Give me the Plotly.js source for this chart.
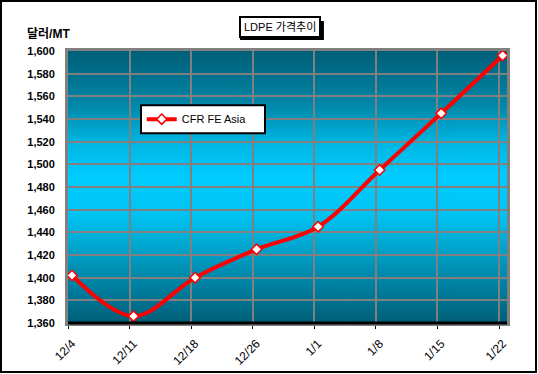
<!DOCTYPE html>
<html>
<head>
<meta charset="utf-8">
<script src="https://cdn.plot.ly/plotly-3.0.1.min.js"></script>
<style>
  html, body { margin: 0; padding: 0; background: #fff; }
  #wrap { position: relative; width: 538px; height: 374px; }
  #chart { width: 538px; height: 374px; }
  #frame { position: absolute; left: 0; top: 0; width: 537px; height: 373px; box-sizing: border-box; border: 2px solid #000; pointer-events: none; }
</style>
</head>
<body>
<div id="wrap"><div id="chart"></div><div id="frame"></div></div>
<script>
// ---- data ----
var categories = ["12/4", "12/11", "12/18", "12/26", "1/1", "1/8", "1/15", "1/22"];
var seriesName = "CFR FE Asia";
var seriesValues = [1402, 1366, 1400, 1425, 1445, 1495, 1545, 1596];
var yTickValues = [1360, 1380, 1400, 1420, 1440, 1460, 1480, 1500, 1520, 1540, 1560, 1580, 1600];
var chartTitle = "LDPE 가격추이";
var yTitle = "달러/MT";

// ---- background gradient for plot area ----
function makeGradient() {
  var c = document.createElement("canvas");
  c.width = 4; c.height = 272;
  var g = c.getContext("2d");
  var grd = g.createLinearGradient(0, 0, 0, 272);
  grd.addColorStop(0, "#005e78");
  grd.addColorStop(0.2, "#0088a8");
  grd.addColorStop(0.33, "#00b4e0");
  grd.addColorStop(0.46, "#00ccff");
  grd.addColorStop(0.6, "#00c4f4");
  grd.addColorStop(0.8, "#0090b4");
  grd.addColorStop(1, "#005e78");
  g.fillStyle = grd;
  g.fillRect(0, 0, 4, 272);
  return c.toDataURL("image/png");
}

var idx = categories.map(function (_, i) { return i; });
var gridPos = idx.map(function (i) { return i - 0.06; });

var FONT = "Liberation Sans, Arial, Noto Sans CJK KR, sans-serif";

var trace = {
  type: "scatter",
  mode: "lines+markers",
  name: seriesName,
  x: idx,
  y: seriesValues,
  line: { color: "#ff0000", width: 4, shape: "spline", smoothing: 1 },
  marker: { symbol: "diamond", size: 8, color: "#ffffff", line: { color: "#ff0000", width: 1.5 } }
};

var layout = {
  width: 538, height: 374,
  margin: { l: 68, r: 31, t: 51, b: 51 },
  paper_bgcolor: "#ffffff",
  plot_bgcolor: "#0099cc",
  font: { family: FONT, color: "#000", size: 11 },
  showlegend: true,
  legend: {
    x: 0.168, y: 0.7495, xanchor: "left", yanchor: "middle",
    bgcolor: "rgba(0,0,0,0)", borderwidth: 0,
    font: { family: FONT, size: 11, color: "#000" }
  },
  xaxis: {
    range: [-0.065, 7.07],
    tickvals: idx, ticktext: categories,
    tickangle: -45,
    showgrid: false, zeroline: false,
    ticks: "",
    ticklabelstandoff: 6,
    tickfont: { family: FONT, size: 12, color: "#000" },
    showline: true, linecolor: "#808080", linewidth: 3, mirror: true,
    minor: { tickvals: gridPos, showgrid: true, gridcolor: "#808080", gridwidth: 2, ticks: "outside", ticklen: 3, tickcolor: "#000", tickwidth: 1 },
    fixedrange: true
  },
  yaxis: {
    range: [1360, 1600],
    tickvals: yTickValues,
    tickformat: ",d",
    showgrid: true, gridcolor: "#808080", gridwidth: 2,
    zeroline: false,
    ticks: "",
    ticklabelstandoff: 8,
    tickfont: { family: FONT, size: 11, color: "#000", weight: "bold" },
    showline: true, linecolor: "#808080", linewidth: 3, mirror: true,
    fixedrange: true
  },
  images: [{
    source: makeGradient(), xref: "paper", yref: "paper",
    x: 0, y: 1, sizex: 1, sizey: 1, sizing: "stretch",
    xanchor: "left", yanchor: "top", layer: "below"
  }],
  shapes: [
    {
      type: "line", xref: "paper", yref: "paper", x0: 0, x1: 1, y0: 0, y1: 0,
      line: { color: "#000000", width: 3 }, layer: "above"
    },
    {
      // drop shadow of the title box
      type: "rect", xref: "paper", yref: "paper",
      x0: 0.392, x1: 0.583, y0: 1.0405, y1: 1.1105,
      fillcolor: "#000", line: { width: 0 }, layer: "below"
    },
    {
      // legend frame
      type: "rect", xref: "paper", yref: "paper",
      x0: 0.1663, x1: 0.4487, y0: 0.698, y1: 0.801,
      fillcolor: "#fff", line: { color: "#000", width: 2 }, layer: "above"
    }
  ],
  annotations: [
    {
      text: chartTitle, xref: "paper", yref: "paper", x: 0.483, y: 1.088,
      xanchor: "center", yanchor: "middle", showarrow: false,
      bgcolor: "#fff", bordercolor: "#000", borderwidth: 2, borderpad: 3,
      font: { family: FONT, size: 11, color: "#000" }
    },
    {
      text: yTitle, xref: "paper", yref: "paper", x: -0.0444, y: 1.063,
      xanchor: "center", yanchor: "middle", showarrow: false,
      font: { family: FONT, size: 12, color: "#000", weight: "bold" }
    }
  ]
};

Plotly.newPlot("chart", [trace], layout, { displayModeBar: false, staticPlot: true });
</script>
</body>
</html>
